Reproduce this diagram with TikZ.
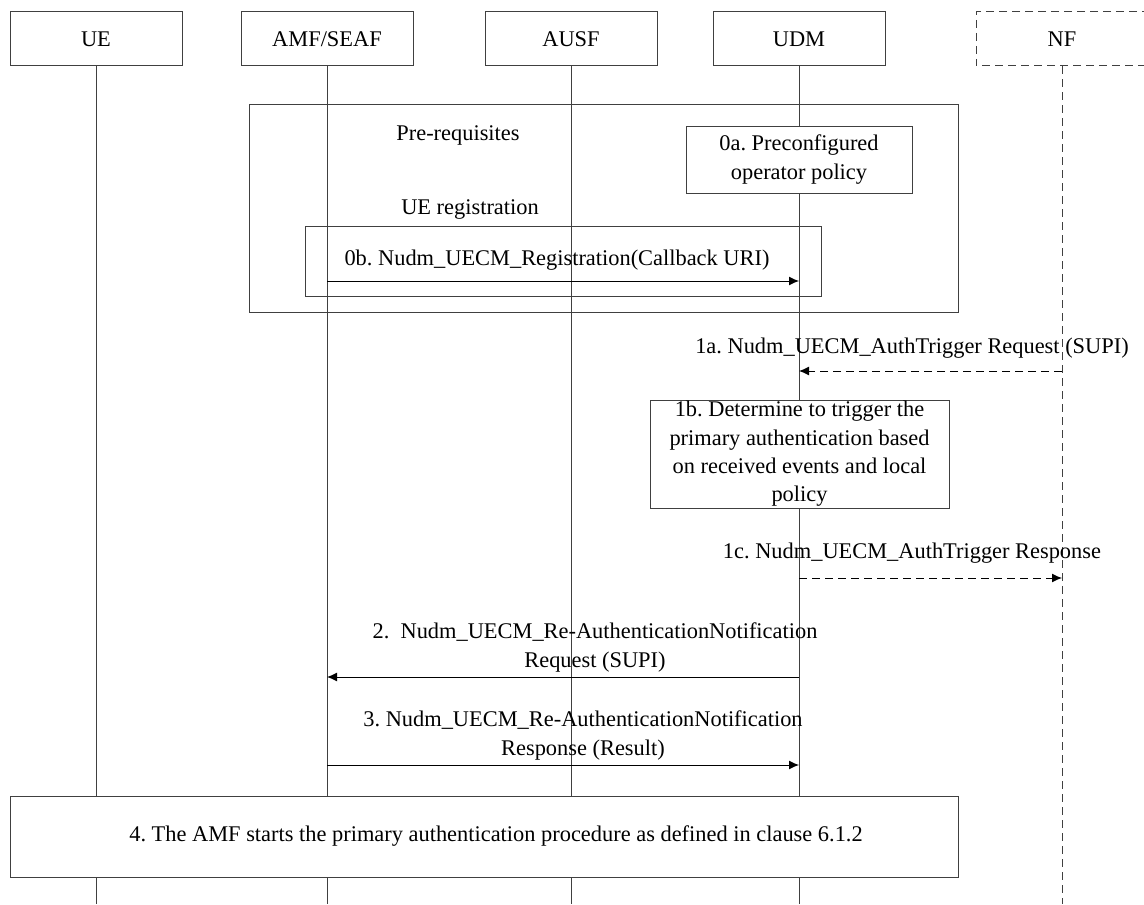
\documentclass[tikz,border=0pt]{standalone}
\usepackage{fontspec}
\setmainfont{Liberation Serif}
\usetikzlibrary{arrows.meta}
\frenchspacing
\tikzset{
  actor/.style={draw=black!75, line width=0.5pt, fill=white, minimum width=86pt, minimum height=27pt, inner sep=0pt},
  stepbox/.style={draw=black!75, line width=0.5pt, fill=white, align=center, inner sep=0pt},
  frame/.style={draw=black!75, line width=0.5pt},
  life/.style={black!75, line width=0.5pt},
  msg/.style={black, line width=0.5pt, -{Latex[length=5pt,width=4.5pt]}},
  dashline/.style={dash pattern=on 4pt off 2.5pt}
}
\begin{document}
\begin{tikzpicture}[x=0.5pt, y=-0.5pt, font=\fontsize{11.2}{14.2}\selectfont]
\useasboundingbox (0,0) rectangle (1144,904);

\node[actor] (ue) at (96,39) {\raisebox{-1pt}{UE}};
\node[actor] (amf) at (327,39) {\raisebox{-1pt}{AMF/SEAF}};
\node[actor] (ausf) at (571,39) {\raisebox{-1pt}{AUSF}};
\node[actor] (udm) at (799,39) {\raisebox{-1pt}{UDM}};
\node[minimum height=27pt, inner sep=0pt] (nf) at (1062,39) {\raisebox{-1pt}{NF}};
\draw[life, dashline] (1150,12) -| (976,66) -- (1150,66);

\coordinate (bottom) at (0,904);
\draw[life] (ue.south) -- (ue.south |- bottom);
\draw[life] (amf.south) -- (amf.south |- bottom);
\draw[life] (ausf.south) -- (ausf.south |- bottom);
\draw[life] (udm.south) -- (udm.south |- bottom);
\draw[life, dashline] (nf.south) -- (nf.south |- bottom);

\draw[frame] (249,105) rectangle (958,312);
\node (pre) at (458,135.5) {Pre-requisites};
\node[stepbox, minimum width=113pt, minimum height=33.5pt] (s0a) at (799,159.5) {0a. Preconfigured\\operator policy};
\node (reg) at (470,209.5) {UE registration};
\draw[frame] (305,226) rectangle (821,296);

\coordinate (m0b) at (0,281);
\coordinate (m1a) at (0,371);
\coordinate (m1c) at (0,578);
\coordinate (m2) at (0,677);
\coordinate (m3) at (0,765);

\draw[msg] (amf |- m0b) -- (udm |- m0b);
\node (l0b) at (557,260.5) {0b. Nudm\_UECM\_Registration(Callback URI)};

\draw[msg, dashline] (nf |- m1a) -- (udm |- m1a);
\node (l1a) at (912,348.5) {1a. Nudm\_UECM\_AuthTrigger Request (SUPI)};

\node[stepbox, minimum width=149.5pt, minimum height=54pt] (s1b) at (799.5,454) {1b. Determine to trigger the\\primary authentication based\\on received events and local\\policy};

\draw[msg, dashline] (udm |- m1c) -- (nf |- m1c);
\node (l1c) at (912,553.5) {1c. Nudm\_UECM\_AuthTrigger Response};

\draw[msg] (udm |- m2) -- (amf |- m2);
\node[align=center] (l2) at (595,647.5) {2.~ Nudm\_UECM\_Re-AuthenticationNotification\\Request (SUPI)};

\draw[msg] (amf |- m3) -- (udm |- m3);
\node[align=center] (l3) at (583,735.5) {3. Nudm\_UECM\_Re-AuthenticationNotification\\Response (Result)};

\node[stepbox, minimum width=474pt, minimum height=40.5pt] (s4) at (484,836.5) {\raisebox{-1pt}{\hspace*{12pt}4. The AMF starts the primary authentication procedure as defined in clause 6.1.2}};
\end{tikzpicture}
\end{document}
